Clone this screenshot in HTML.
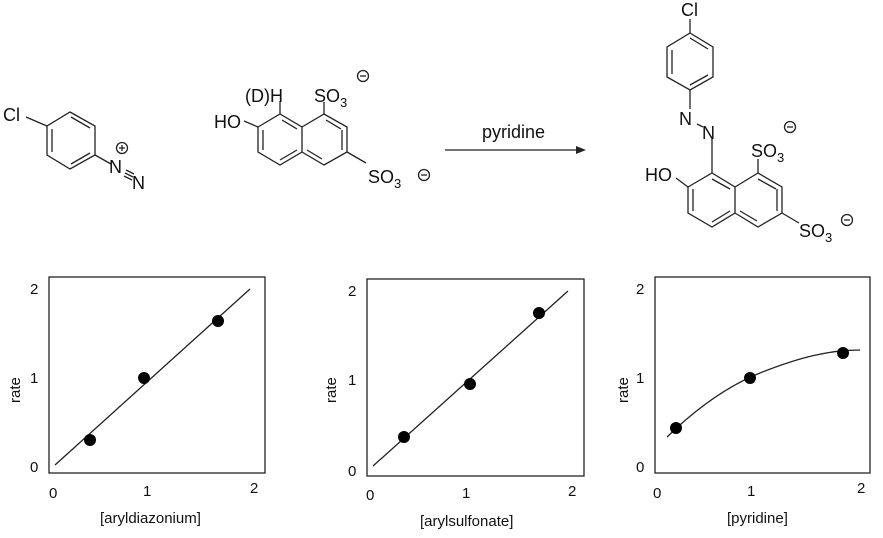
<!DOCTYPE html>
<html><head><meta charset="utf-8"><style>html,body{margin:0;padding:0;background:#fff}svg{display:block}text{font-family:"Liberation Sans",sans-serif;fill:#111}</style></head><body>
<svg width="883" height="538" viewBox="0 0 883 538" xmlns="http://www.w3.org/2000/svg">
<g stroke="#222" stroke-width="1.3" fill="none">
<line x1="26" y1="117" x2="47" y2="126"/>
<polygon points="70,112 95,126 95,155 70,169 47,155 47,126"/>
<line x1="71" y1="117" x2="90" y2="128"/><line x1="90" y1="153" x2="71" y2="164"/><line x1="52" y1="129" x2="52" y2="152"/>
<line x1="95" y1="155" x2="111" y2="164"/>
<line x1="125" y1="173" x2="133" y2="177"/><line x1="126" y1="170" x2="134" y2="174"/><line x1="124" y1="176" x2="132" y2="180"/>
<circle cx="122" cy="148" r="5.5"/><line x1="119" y1="148" x2="125" y2="148"/><line x1="122" y1="145" x2="122" y2="151"/>
<line x1="244" y1="121" x2="258" y2="127"/>
<polygon points="258,127 280,114 302,127 302,152 280,165 258,152"/>
<polyline points="302,127 324,114 347,127 347,152 324,165 302,152"/>
<line x1="280" y1="114" x2="280" y2="101"/><line x1="324" y1="114" x2="324" y2="102"/>
<line x1="282" y1="120" x2="297" y2="129"/><line x1="263" y1="150" x2="263" y2="130"/><line x1="280" y1="160" x2="297" y2="150"/>
<line x1="342" y1="130" x2="342" y2="150"/><line x1="307" y1="150" x2="322" y2="159"/><line x1="326" y1="120" x2="341" y2="129"/>
<line x1="347" y1="152" x2="366" y2="163"/>
<circle cx="363" cy="76" r="5.5"/><line x1="360" y1="76" x2="366" y2="76"/>
<circle cx="424" cy="175" r="5.5"/><line x1="421" y1="175" x2="427" y2="175"/>
<line x1="445" y1="150" x2="578" y2="150"/>
<line x1="690" y1="19" x2="690" y2="33"/>
<polygon points="690,33 713,47 713,77 690,90 667,77 667,47"/>
<line x1="690" y1="38" x2="708" y2="49"/><line x1="708" y1="75" x2="690" y2="85"/><line x1="672" y1="50" x2="672" y2="74"/>
<line x1="690" y1="90" x2="690" y2="109"/>
<line x1="697" y1="124" x2="703" y2="127"/>
<line x1="712" y1="139" x2="712" y2="173"/>
<line x1="676" y1="178" x2="688" y2="187"/>
<polygon points="688,187 712,173 735,187 735,213 712,227 688,213"/>
<polyline points="735,187 758,173 782,187 782,213 758,227 735,213"/>
<line x1="758" y1="173" x2="758" y2="159"/>
<line x1="693" y1="189" x2="693" y2="211"/><line x1="712" y1="179" x2="730" y2="189"/><line x1="712" y1="222" x2="730" y2="211"/>
<line x1="777" y1="189" x2="777" y2="211"/><line x1="758" y1="179" x2="776" y2="189"/><line x1="740" y1="211" x2="757" y2="221"/>
<line x1="782" y1="213" x2="799" y2="223"/>
<circle cx="790" cy="127" r="5.5"/><line x1="787" y1="127" x2="793" y2="127"/>
<circle cx="847" cy="220" r="5.5"/><line x1="844" y1="220" x2="850" y2="220"/>
<rect x="49" y="277" width="216" height="196"/>
<line x1="55" y1="465" x2="250" y2="289"/>
<rect x="367" y="279" width="217" height="197"/>
<line x1="373" y1="466" x2="568" y2="291"/>
<rect x="655" y="277" width="215" height="196"/>
<path d="M667,437 C700,405 730,385 760,373 C800,357 830,350 860,350"/>
</g>
<polygon points="586,150 576,146 576,154" fill="#222"/>
<g fill="#000">
<circle cx="90" cy="440" r="6"/><circle cx="144" cy="378" r="6"/><circle cx="218" cy="321" r="6"/>
<circle cx="404" cy="437" r="6"/><circle cx="470" cy="384" r="6"/><circle cx="539" cy="313" r="6"/>
<circle cx="676" cy="428" r="6"/><circle cx="750" cy="378" r="6"/><circle cx="843" cy="353" r="6"/>
</g>
<g font-size="18">
<text x="3" y="121">Cl</text>
<text x="109" y="173">N</text><text x="132" y="189">N</text>
<text x="214" y="128">HO</text>
<text x="245" y="102">(D)H</text>
<text x="314" y="102">SO<tspan font-size="13" dy="5">3</tspan></text>
<text x="368" y="183">SO<tspan font-size="13" dy="5">3</tspan></text>
<text x="482" y="138">pyridine</text>
<text x="681" y="16">Cl</text>
<text x="679" y="125">N</text><text x="702" y="139">N</text>
<text x="751" y="157">SO<tspan font-size="13" dy="5">3</tspan></text>
<text x="645" y="181">HO</text>
<text x="799" y="237">SO<tspan font-size="13" dy="5">3</tspan></text>
</g>
<g font-size="15">
<text x="30" y="294">2</text><text x="30" y="383">1</text><text x="30" y="472">0</text>
<text x="49" y="498">0</text><text x="143" y="496">1</text><text x="250" y="493">2</text>
<text x="100" y="523">[aryldiazonium]</text>
<text transform="translate(20,403) rotate(-90)">rate</text>
<text x="348" y="296">2</text><text x="348" y="385">1</text><text x="348" y="476">0</text>
<text x="366" y="500">0</text><text x="462" y="498">1</text><text x="568" y="496">2</text>
<text x="420" y="526">[arylsulfonate]</text>
<text transform="translate(336,403) rotate(-90)">rate</text>
<text x="636" y="294">2</text><text x="636" y="383">1</text><text x="636" y="472">0</text>
<text x="653" y="498">0</text><text x="747" y="496">1</text><text x="857" y="493">2</text>
<text x="727" y="523">[pyridine]</text>
<text transform="translate(628,403) rotate(-90)">rate</text>
</g>
</svg>
</body></html>
